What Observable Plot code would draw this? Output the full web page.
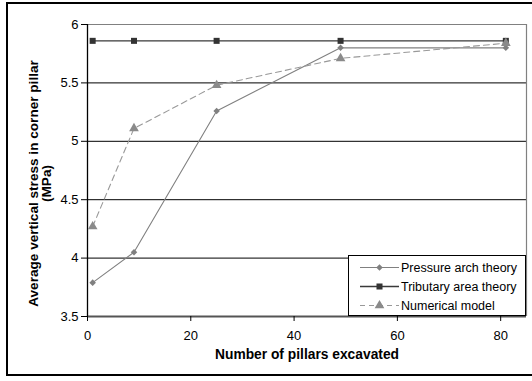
<!DOCTYPE html>
<html>
<head>
<meta charset="utf-8">
<script src="https://cdn.jsdelivr.net/npm/d3@7"></script>
<script src="https://cdn.jsdelivr.net/npm/@observablehq/plot@0.6"></script>
<style>
  html, body { margin: 0; padding: 0; background: #fff; }
  #wrap { position: relative; width: 532px; height: 381px; overflow: hidden; font-family: "Liberation Sans", Arial, sans-serif; }
  #frame { position: absolute; left: 6px; top: 2px; width: 540px; height: 374px; border: 2px solid #000; box-sizing: border-box; pointer-events: none; }
  #chart { position: absolute; left: 0; top: 0; }
  #legend { position: absolute; left: 348px; top: 255px; width: 178px; height: 61px; box-sizing: border-box; border: 1px solid #000; background: #fff; font-size: 12.5px; color: #000; }
  .row { position: absolute; left: 10px; height: 19px; display: flex; align-items: center; }
  .row svg { display: block; }
  .row span { margin-left: 1px; white-space: nowrap; }
</style>
</head>
<body>
<div id="wrap">
  <div id="chart"></div>
  <div id="frame"></div>
  <div id="legend"></div>
</div>
<script>
const pillars = [1, 9, 25, 49, 81];
const pressureArch = [3.79, 4.05, 5.26, 5.80, 5.80];
const tributaryArea = [5.86, 5.86, 5.86, 5.86, 5.86];
const numericalModel = [4.27, 5.11, 5.48, 5.71, 5.84];
const seriesNames = ["Pressure arch theory", "Tributary area theory", "Numerical model"];
const xTicks = [0, 20, 40, 60, 80];
const yTicks = [3.5, 4, 4.5, 5, 5.5, 6];
const gridValues = [4, 4.5, 5, 5.5];

const styles = {
  "Pressure arch theory": {stroke: "#808080", fill: "#808080", width: 1.1, dash: null, symbol: "square", rotate: 45, r: 2.6},
  "Tributary area theory": {stroke: "#3a3a3a", fill: "#333333", width: 1.4, dash: null, symbol: "square", rotate: 0, r: 3.4},
  "Numerical model": {stroke: "#999999", fill: "#8a8a8a", width: 1.1, dash: "6,4", symbol: "triangle", rotate: 0, r: 3.6}
};

const seriesValues = [pressureArch, tributaryArea, numericalModel];
const data = [];
seriesNames.forEach((name, i) => {
  pillars.forEach((p, j) => data.push({series: name, x: p, y: seriesValues[i][j]}));
});

const marks = [
  Plot.ruleY(gridValues, {stroke: "#000", strokeWidth: 1}),
  Plot.ruleY([6], {stroke: "#808080", strokeWidth: 1.2}),
  Plot.ruleX([85], {stroke: "#808080", strokeWidth: 1.2}),
  Plot.ruleY([3.5], {stroke: "#555", strokeWidth: 2}),
  Plot.ruleX([0], {stroke: "#000", strokeWidth: 1.3}),
  Plot.axisX({ticks: xTicks, tickSize: 5, tickPadding: 9, tickFormat: d => d, label: null, stroke: "#000", fontSize: 13}),
  Plot.axisY({ticks: yTicks, tickSize: 6, tickPadding: 3, tickFormat: d => d, label: null, stroke: "#000", fontSize: 13}),
];

seriesNames.forEach(name => {
  const s = styles[name];
  const d = data.filter(e => e.series === name);
  marks.push(Plot.line(d, {x: "x", y: "y", stroke: s.stroke, strokeWidth: s.width, strokeDasharray: s.dash}));
});
seriesNames.forEach(name => {
  const s = styles[name];
  const d = data.filter(e => e.series === name);
  marks.push(Plot.dot(d, {x: "x", y: "y", symbol: s.symbol, fill: s.fill, stroke: "none", r: s.r, rotate: s.rotate}));
});

marks.push(Plot.text(["Number of pillars excavated"], {frameAnchor: "bottom", dy: 42, fontWeight: "bold", fontSize: 13.8, fill: "#000"}));
marks.push(Plot.text(["Average vertical stress in corner pillar\n(MPa)"], {frameAnchor: "left", textAnchor: "middle", lineAnchor: "middle", dx: -47.5, dy: 13, rotate: -90, fontWeight: "bold", fontSize: 13.6, lineHeight: 0.96, fill: "#000"}));

const chart = Plot.plot({
  width: 532,
  height: 381,
  marginLeft: 87,
  marginRight: 6,
  marginTop: 24,
  marginBottom: 65,
  style: {fontFamily: "'Liberation Sans', Arial, sans-serif", fontSize: "13px", background: "transparent", color: "#000"},
  x: {domain: [0, 85]},
  y: {domain: [3.5, 6]},
  marks
});
document.getElementById("chart").appendChild(chart);

// legend
const legend = document.getElementById("legend");
seriesNames.forEach((name, i) => {
  const s = styles[name];
  const row = document.createElement("div");
  row.className = "row";
  row.style.top = (2 + i * 19) + "px";
  const sw = d3.create("svg").attr("width", 41).attr("height", 19);
  sw.append("line").attr("x1", 1).attr("x2", 40).attr("y1", 9.5).attr("y2", 9.5)
    .attr("stroke", s.stroke).attr("stroke-width", s.width).attr("stroke-dasharray", s.dash ? "5,4" : null);
  const sym = s.symbol === "triangle" ? d3.symbolTriangle : d3.symbolSquare;
  sw.append("path").attr("d", d3.symbol(sym, Math.PI * s.r * s.r)())
    .attr("transform", `translate(20.5,9.5) rotate(${s.rotate})`).attr("fill", s.fill);
  row.appendChild(sw.node());
  const t = document.createElement("span");
  t.textContent = name;
  row.appendChild(t);
  legend.appendChild(row);
});
</script>
</body>
</html>
